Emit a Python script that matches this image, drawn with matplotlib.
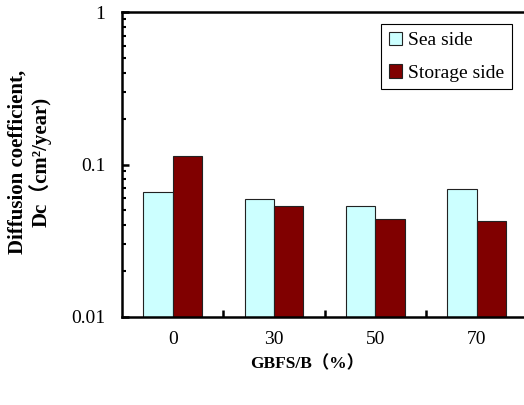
import numpy as np
import matplotlib
matplotlib.use('Agg')
from matplotlib import pyplot as plt
from matplotlib.ticker import FixedLocator, LogLocator, NullFormatter

plt.rcParams['font.family'] = ['Liberation Serif', 'Noto Sans CJK JP']
plt.rcParams['font.size'] = 14

# GBFS replacement ratio and diffusion coefficient (cm2/year)
categories = ['0', '30', '50', '70']
sea_side = [0.0663, 0.0597, 0.0537, 0.0694]
storage_side = [0.114, 0.0537, 0.0437, 0.0428]

x = np.arange(len(categories))
w = 0.29

fig = plt.figure(dpi=100, figsize=(5.24, 4.05))
ax = fig.add_axes([0.2328, 0.2173, 0.774, 0.753])

ax.bar(x - w / 2, sea_side, w, color='#ccffff', edgecolor='#222222',
       linewidth=0.8, label='Sea side')
ax.bar(x + w / 2, storage_side, w, color='#800000', edgecolor='#222222',
       linewidth=0.8, label='Storage side')

ax.set_yscale('log')
ax.set_ylim(0.01, 1)
ax.set_xlim(-0.5, 3.5)

ax.set_yticks([0.01, 0.1, 1])
ax.set_yticklabels(['0.01', '0.1', '1'])
ax.yaxis.set_minor_locator(LogLocator(base=10, subs=np.arange(2, 10)))
ax.yaxis.set_minor_formatter(NullFormatter())

ax.set_xticks(x)
ax.set_xticklabels(categories)
ax.xaxis.set_minor_locator(FixedLocator([0.5, 1.5, 2.5]))

for s in ax.spines.values():
    s.set_linewidth(1.8)
ax.tick_params(axis='y', which='major', direction='in', length=5, width=1.8, pad=12)
ax.tick_params(axis='y', which='minor', direction='in', length=3, width=1.5)
ax.tick_params(axis='x', which='major', length=0, pad=10)
ax.tick_params(axis='x', which='minor', direction='in', length=5, width=1.8)

ax.set_xlabel('GBFS/B（%）', fontweight='bold', fontsize=12.5)
ax.xaxis.set_label_coords(0.456, -0.125)
ax.set_ylabel('Diffusion coefficient,\nDc（cm²/year)', fontweight='bold',
              fontsize=15, linespacing=1.05)
ax.yaxis.set_label_coords(-0.173, 0.51)

leg = ax.legend(loc='upper right', bbox_to_anchor=(0.962, 0.961),
                fancybox=False, edgecolor='black', framealpha=1,
                handlelength=0.7, handleheight=0.7, handletextpad=0.3,
                labelspacing=0.75, borderpad=0.4, borderaxespad=0,
                fontsize=14)
leg.get_frame().set_linewidth(0.8)

plt.savefig('out.png')
